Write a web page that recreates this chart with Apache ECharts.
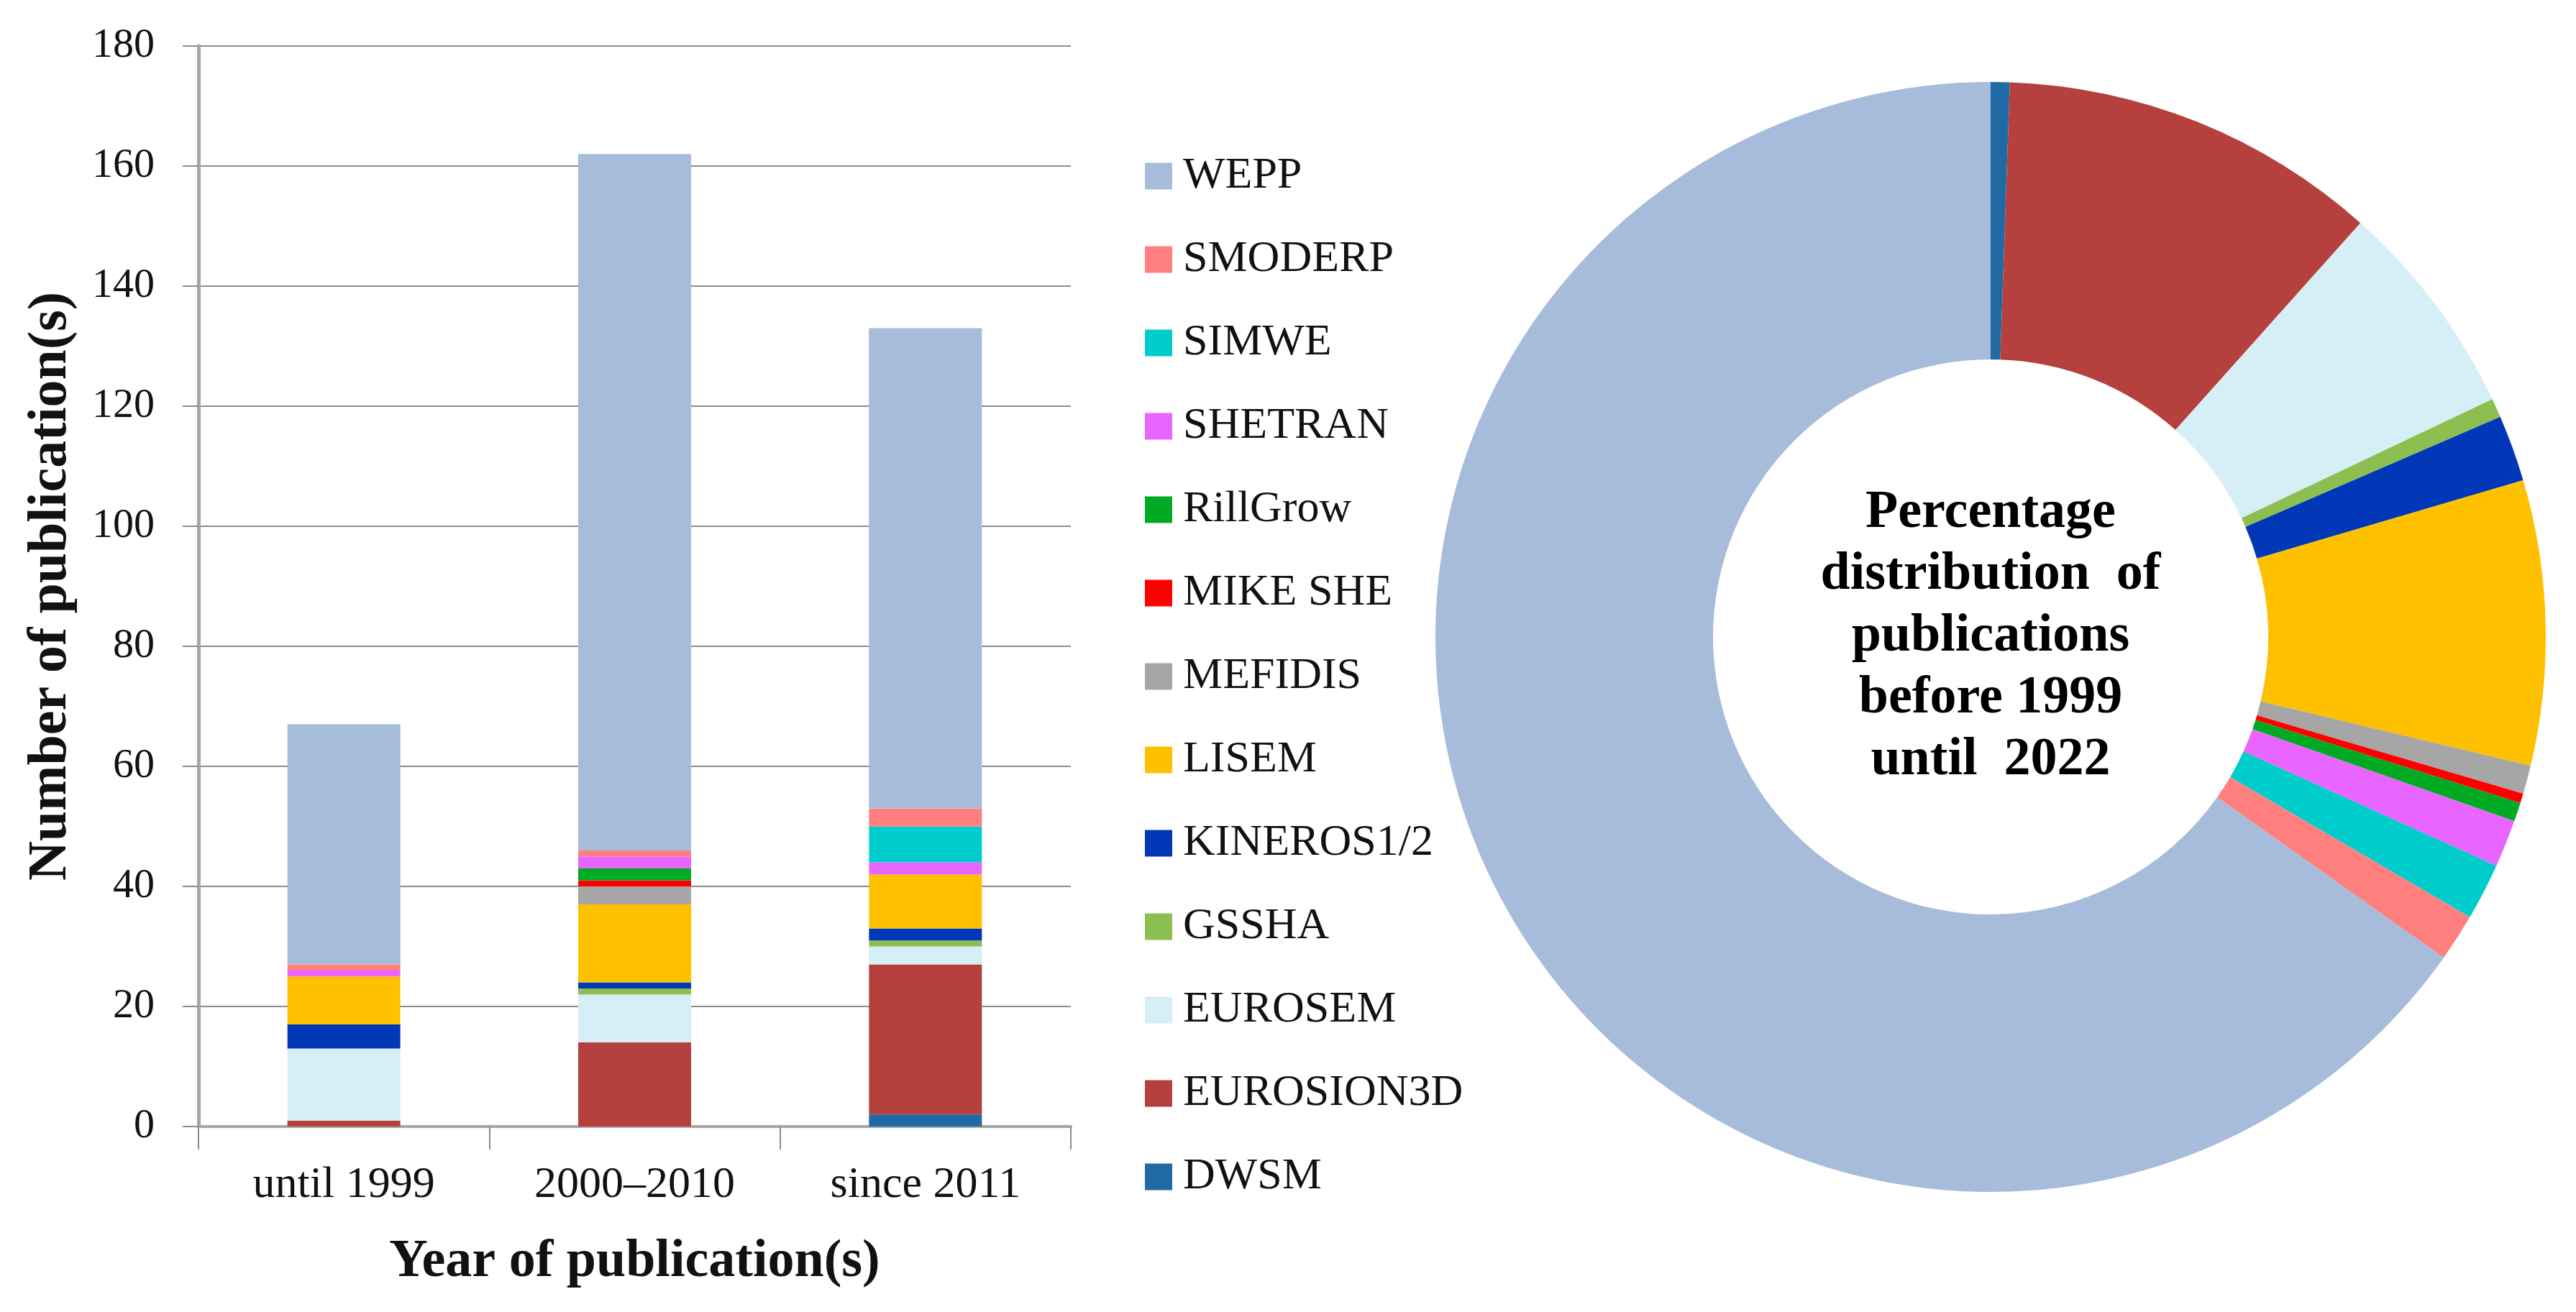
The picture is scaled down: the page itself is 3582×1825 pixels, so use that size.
<!DOCTYPE html>
<html>
<head>
<meta charset="utf-8">
<script src="https://cdn.jsdelivr.net/npm/echarts@6/dist/echarts.min.js"></script>
<style>html,body{margin:0;padding:0;background:#fff;}#c{width:3582px;height:1825px;}</style>
</head>
<body>
<div id="c"></div>
<script>
// ---- data ----
const categories = ['until 1999', '2000\u20132010', 'since 2011'];
// stacking order bottom -> top
const models = ['DWSM', 'EUROSION3D', 'EUROSEM', 'GSSHA', 'KINEROS1/2', 'LISEM', 'MEFIDIS', 'MIKE SHE', 'RillGrow', 'SHETRAN', 'SIMWE', 'SMODERP', 'WEPP'];
const DWSM       = [0, 0, 2];
const EUROSION3D = [1, 14, 25];
const EUROSEM    = [12, 8, 3];
const GSSHA      = [0, 1, 1];
const KINEROS    = [4, 1, 2];
const LISEM      = [8, 13, 9];
const MEFIDIS    = [0, 3, 0];
const MIKESHE    = [0, 1, 0];
const RillGrow   = [0, 2, 0];
const SHETRAN    = [1, 2, 2];
const SIMWE      = [0, 0, 6];
const SMODERP    = [1, 1, 3];
const WEPP       = [40, 116, 80];
// totals over all periods (donut), same order as models
const donutTotals = [2, 40, 23, 2, 7, 30, 3, 1, 2, 5, 6, 5, 236];
const yTicks = { min: 0, max: 180, interval: 20 };

const seriesValues = [DWSM, EUROSION3D, EUROSEM, GSSHA, KINEROS, LISEM, MEFIDIS, MIKESHE, RillGrow, SHETRAN, SIMWE, SMODERP, WEPP];
const colors = ['#1F6AA5', '#B5403D', '#D6EEF5', '#8CBF50', '#0038B8', '#FFC000', '#A6A6A6', '#FF0000', '#00AA22', '#E866FF', '#00CCCC', '#FF7F7F', '#A7BBDA'];

const FONT = '"Liberation Serif", "Times New Roman", serif';
const chart = echarts.init(document.getElementById('c'));

const barSeries = models.map((m, i) => ({
  name: m,
  type: 'bar',
  stack: 'total',
  barWidth: 157,
  data: seriesValues[i],
  itemStyle: { color: colors[i] },
  emphasis: { disabled: true }
}));

chart.setOption({
  animation: false,
  backgroundColor: '#ffffff',
  textStyle: { fontFamily: FONT },
  grid: { left: 276, right: 3582 - 1489, top: 64, bottom: 1825 - 1567, containLabel: false },
  legend: {
    orient: 'vertical',
    left: 1587,
    top: 209,
    height: 1600,
    data: models.slice().reverse(),
    icon: 'rect',
    itemWidth: 38,
    itemHeight: 37,
    itemGap: 54,
    selectedMode: false,
    textStyle: { fontFamily: FONT, fontSize: 62, color: '#111', padding: [0, 0, 0, 10] }
  },
  xAxis: {
    type: 'category',
    data: categories,
    axisLine: { lineStyle: { color: '#A6A6A6', width: 4 } },
    axisTick: { show: true, length: 32, lineStyle: { color: '#8c8c8c', width: 2 } },
    axisLabel: { fontFamily: FONT, fontSize: 62, color: '#111', margin: 51 },
    name: 'Year of publication(s)',
    nameLocation: 'middle',
    nameGap: 152,
    nameTextStyle: { fontFamily: FONT, fontSize: 74, fontWeight: 'bold', color: '#111' }
  },
  yAxis: {
    type: 'value',
    min: yTicks.min, max: yTicks.max, interval: yTicks.interval,
    axisLine: { show: true, lineStyle: { color: '#A6A6A6', width: 5 } },
    axisTick: { show: true, length: 22, lineStyle: { color: '#8c8c8c', width: 2 } },
    splitLine: { lineStyle: { color: '#8c8c8c', width: 2 } },
    axisLabel: { fontFamily: FONT, fontSize: 58, color: '#111', margin: 61 },
    name: 'Number of publication(s)',
    nameLocation: 'middle',
    nameGap: 167,
    nameRotate: 90,
    nameTextStyle: { fontFamily: FONT, fontSize: 76, fontWeight: 'bold', color: '#111' }
  },
  graphic: [{
    type: 'text',
    x: 2768, y: 886,
    style: {
      text: 'Percentage\ndistribution  of\npublications\nbefore 1999\nuntil  2022',
      font: 'bold 74px ' + FONT,
      fill: '#000',
      textAlign: 'center',
      textVerticalAlign: 'middle',
      lineHeight: 86
    }
  }],
  series: barSeries.concat([{
    type: 'pie',
    name: 'Percentage distribution',
    center: [2768, 886],
    radius: [386, 772],
    startAngle: 90,
    clockwise: true,
    label: { show: false },
    labelLine: { show: false },
    emphasis: { disabled: true },
    itemStyle: { borderWidth: 0 },
    data: models.map((m, i) => ({ name: m, value: donutTotals[i], itemStyle: { color: colors[i] } }))
  }])
});
</script>
</body>
</html>
